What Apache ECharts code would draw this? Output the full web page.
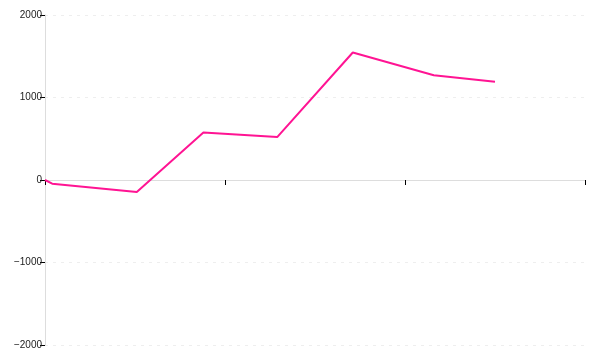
<!DOCTYPE html>
<html><head><meta charset="utf-8">
<script src="https://cdn.jsdelivr.net/npm/echarts@6/dist/echarts.min.js"></script>
<style>html,body{margin:0;padding:0;background:#fff}#c{width:600px;height:360px}</style>
</head><body><div id="c"></div>
<script>
const xValues = [0, 0.04, 0.51, 0.88, 1.29, 1.71, 2.16, 2.5];
const yValues = [0, -45, -145, 575, 520, 1545, 1270, 1190];
const yTicks = [-2000, -1000, 0, 1000, 2000];

const chart = echarts.init(document.getElementById('c'), null, {renderer: 'canvas'});
chart.setOption({
  animation: false,
  grid: {left: 45, right: 15, top: 15, bottom: 15},
  xAxis: {
    type: 'value', min: 0, max: 3, interval: 1,
    axisLine: {onZero: true, lineStyle: {color: '#ddd', width: 1}},
    axisTick: {show: true, length: 5, lineStyle: {color: '#000'}},
    axisLabel: {show: false},
    splitLine: {show: false}
  },
  yAxis: {
    type: 'value', min: yTicks[0], max: yTicks[yTicks.length - 1], interval: 1000,
    axisLine: {show: true, onZero: false, lineStyle: {color: '#ddd'}},
    axisTick: {show: true, length: 5, lineStyle: {color: '#000'}},
    axisLabel: {margin: 3, color: '#222', fontSize: 10, fontFamily: 'Liberation Sans',
      formatter: v => String(v).replace('-', '\u2212')},
    splitLine: {show: true, lineStyle: {color: '#eee', type: [3, 5]}}
  },
  series: [{
    type: 'line',
    data: xValues.map((x, i) => [x, yValues[i]]),
    showSymbol: false,
    lineStyle: {color: '#ff1493', width: 2},
    itemStyle: {color: '#ff1493'}
  }]
});
</script></body></html>
